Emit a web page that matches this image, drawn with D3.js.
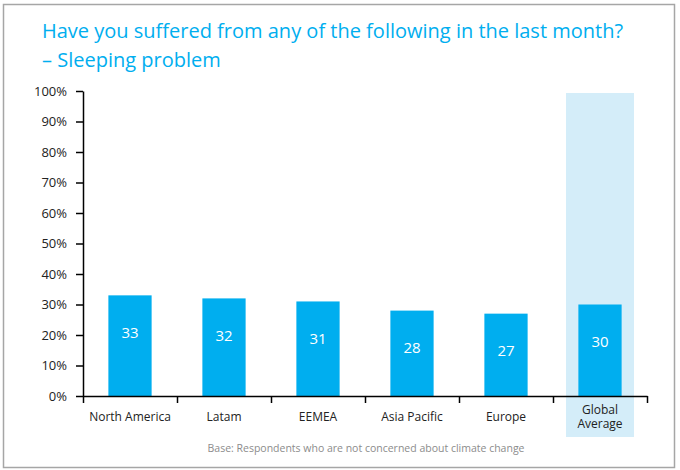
<!DOCTYPE html>
<html>
<head>
<meta charset="utf-8">
<script src="https://cdn.jsdelivr.net/npm/d3@7"></script>
<style>
  body { margin: 0; background: #fff; }
  text { font-family: "Open Sans", sans-serif; }
</style>
</head>
<body>
<div id="wrapper"></div>
<script>
// data
const categories = ["North America", "Latam", "EEMEA", "Asia Pacific", "Europe", "Global Average"];
const values = [33, 32, 31, 28, 27, 30];
const highlighted = ["Global Average"];
const yTicks = [0, 10, 20, 30, 40, 50, 60, 70, 80, 90, 100];

const titleLines = ["Have you suffered from any of the following in the last month?", "– Sleeping problem"];
const baseNote = "Base:  Respondents who are not concerned about climate change";

const width = 680;
const height = 470;
let dimensions = {
    width: width,
    height: height,
    margin: { top: 91, right: 33, bottom: 74, left: 83 }
}
dimensions.boundedWidth = dimensions.width - dimensions.margin.left - dimensions.margin.right
dimensions.boundedHeight = dimensions.height - dimensions.margin.top - dimensions.margin.bottom

const blue = "#00aeef";

const svg = d3.select("#wrapper")
    .append("svg")
    .attr("width", width)
    .attr("height", height);

// frame
svg.append("rect")
    .attr("x", 3.5).attr("y", 4.5)
    .attr("width", 671).attr("height", 463)
    .attr("fill", "none")
    .attr("stroke", "#a6a6a6")
    .attr("stroke-width", 1.5);

// title
svg.append("g").selectAll("text")
    .data(titleLines)
    .join("text")
    .attr("x", 42)
    .attr("y", (d, i) => 38 + i * 29)
    .attr("fill", blue)
    .style("font-size", "20px")
    .text(d => d);

const bounds = svg.append("g")
    .attr("transform", `translate(${dimensions.margin.left},${dimensions.margin.top})`);

const xScale = d3.scaleBand()
    .domain(categories)
    .range([0, dimensions.boundedWidth])
    .paddingInner(0.54)
    .paddingOuter(0.27);

const xSlots = d3.scaleLinear()
    .domain([0, categories.length])
    .range([0, dimensions.boundedWidth]);

const yScale = d3.scaleLinear()
    .domain([0, 100])
    .range([dimensions.boundedHeight, 0]);

// highlight column
bounds.append("g").selectAll("rect")
    .data(highlighted)
    .join("rect")
    .attr("x", d => xScale(d) + xScale.bandwidth() / 2 - 34)
    .attr("y", 2)
    .attr("width", 68)
    .attr("height", dimensions.boundedHeight + 39)
    .attr("fill", "#d4edf9");

// bars
bounds.append("g").selectAll("rect")
    .data(values)
    .join("rect")
    .attr("x", (d, i) => xScale(categories[i]))
    .attr("y", d => yScale(d))
    .attr("width", xScale.bandwidth())
    .attr("height", d => yScale(0) - yScale(d))
    .attr("fill", blue);

// value labels
bounds.append("g").selectAll("text")
    .data(values)
    .join("text")
    .attr("x", (d, i) => xScale(categories[i]) + xScale.bandwidth() / 2)
    .attr("y", d => yScale(d) + 37)
    .attr("dy", "0.35em")
    .attr("text-anchor", "middle")
    .attr("fill", "#fff")
    .style("font-size", "15px")
    .text(d => d);

// y axis
const yAxis = bounds.append("g")
    .call(d3.axisLeft(yScale).tickValues(yTicks).tickFormat(d => d + "%").tickSize(7).tickPadding(9).tickSizeOuter(0));
yAxis.selectAll("line, path").attr("stroke", "#000").attr("stroke-width", 1.5);
yAxis.selectAll("text").style("font-size", "13px").attr("fill", "#222");

// x axis ticks at the category boundaries
const xAxis = bounds.append("g")
    .attr("transform", `translate(0,${dimensions.boundedHeight})`)
    .call(d3.axisBottom(xSlots).ticks(categories.length).tickFormat("").tickSize(7).tickSizeOuter(0));
xAxis.selectAll("line, path").attr("stroke", "#000").attr("stroke-width", 1.5);

// category labels (highlighted one wraps onto two lines)
const labelRows = [];
categories.forEach(c => {
    const words = highlighted.includes(c) ? c.split(" ") : [c];
    words.forEach((w, i) => labelRows.push({ cat: c, text: w, row: i, rows: words.length }));
});

bounds.append("g").selectAll("text")
    .data(labelRows)
    .join("text")
    .attr("x", d => xScale(d.cat) + xScale.bandwidth() / 2)
    .attr("y", d => d.rows === 1 ? dimensions.boundedHeight + 25 : dimensions.boundedHeight + 18 + d.row * 13.5)
    .attr("text-anchor", "middle")
    .attr("fill", "#222")
    .style("font-size", "12px")
    .text(d => d.text);

// base note
svg.append("text")
    .attr("x", 366)
    .attr("y", 452)
    .attr("text-anchor", "middle")
    .attr("fill", "#8c8c8c")
    .style("font-size", "10.5px")
    .text(baseNote);
</script>
</body>
</html>
